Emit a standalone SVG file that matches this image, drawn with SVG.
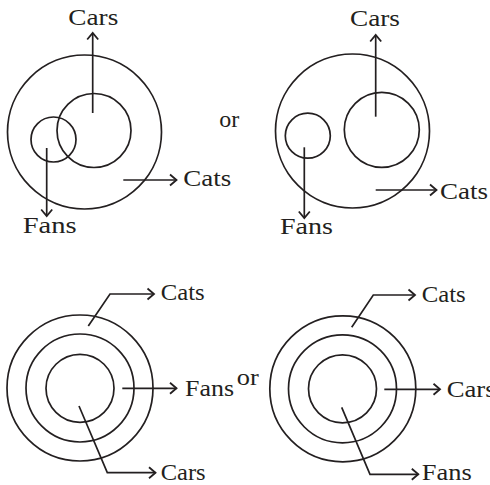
<svg xmlns="http://www.w3.org/2000/svg" width="490" height="485" viewBox="0 0 490 485">
<style>
.c{fill:none;stroke:#231f20;stroke-width:1.7}
.l{fill:none;stroke:#231f20;stroke-width:1.7;marker-end:url(#ah)}
text{font-family:"Liberation Serif","Times New Roman",serif;font-size:23px;fill:#231f20}
</style>
<defs>
<marker id="ah" markerUnits="userSpaceOnUse" viewBox="-8 -7 10 14" refX="0" refY="0" markerWidth="10" markerHeight="14" orient="auto" overflow="visible">
<path d="M-6.5,-5.5 L0,0 L-6.5,5.5" fill="none" stroke="#231f20" stroke-width="1.8"/>
</marker>
</defs>
<rect width="490" height="485" fill="#fff"/>

<g id="d1">
<g id="d1-cats"><circle class="c" cx="84.5" cy="132" r="77"/><text x="183.3" y="186" textLength="48" lengthAdjust="spacingAndGlyphs">Cats</text></g>
<g id="d1-cars"><circle class="c" cx="94" cy="130.5" r="37"/><text x="68.3" y="25" textLength="50" lengthAdjust="spacingAndGlyphs">Cars</text></g>
<g id="d1-fans"><circle class="c" cx="53.5" cy="139.5" r="22.5"/><text x="22.7" y="233" textLength="54" lengthAdjust="spacingAndGlyphs">Fans</text></g>
</g>
<text id="or1" x="219.3" y="127" textLength="20" lengthAdjust="spacingAndGlyphs">or</text>

<g id="d2">
<g id="d2-cats"><circle class="c" cx="352.5" cy="131" r="77"/><text x="440" y="199" textLength="48" lengthAdjust="spacingAndGlyphs">Cats</text></g>
<g id="d2-cars"><circle class="c" cx="381.8" cy="129.8" r="37.5"/><text x="350" y="26" textLength="50" lengthAdjust="spacingAndGlyphs">Cars</text></g>
<g id="d2-fans"><circle class="c" cx="307.8" cy="135.7" r="22.5"/><text x="280" y="234" textLength="53" lengthAdjust="spacingAndGlyphs">Fans</text></g>
</g>

<g id="d3">
<g id="d3-cats"><circle class="c" cx="80" cy="388" r="73"/><text x="160.7" y="299.5" textLength="44" lengthAdjust="spacingAndGlyphs">Cats</text></g>
<g id="d3-fans"><circle class="c" cx="80" cy="388" r="54"/><text x="185" y="395.7" textLength="49" lengthAdjust="spacingAndGlyphs">Fans</text></g>
<g id="d3-cars"><circle class="c" cx="80" cy="388.3" r="34"/><text x="160.7" y="480" textLength="45" lengthAdjust="spacingAndGlyphs">Cars</text></g>
</g>
<text id="or2" x="236.7" y="385" textLength="22" lengthAdjust="spacingAndGlyphs">or</text>

<g id="d4">
<g id="d4-cats"><circle class="c" cx="342.8" cy="388.8" r="73"/><text x="421.7" y="301.7" textLength="44" lengthAdjust="spacingAndGlyphs">Cats</text></g>
<g id="d4-cars"><circle class="c" cx="342.5" cy="388.8" r="54"/><text x="446.7" y="396.7" textLength="49" lengthAdjust="spacingAndGlyphs">Cars</text></g>
<g id="d4-fans"><circle class="c" cx="342.5" cy="388.8" r="34"/><text x="421.7" y="480" textLength="50" lengthAdjust="spacingAndGlyphs">Fans</text></g>
</g>

<g id="connectors">
<path class="l" d="M92.7,113 V33"/>
<path class="l" d="M123.3,180 H176.5"/>
<path class="l" d="M46.7,148 V216"/>
<path class="l" d="M375.7,116.7 V35"/>
<path class="l" d="M375.7,190 H436.5"/>
<path class="l" d="M304.3,147.3 V218"/>
<path class="l" d="M88.3,326 L110,294 H154"/>
<path class="l" d="M122.3,388.3 H176.5"/>
<path class="l" d="M79,406 L107.3,472.7 H155.5"/>
<path class="l" d="M351.7,327.3 L373.3,295 H415"/>
<path class="l" d="M384.3,389.3 H440"/>
<path class="l" d="M341.7,407.3 L370,474.3 H418.3"/>
</g>
</svg>
